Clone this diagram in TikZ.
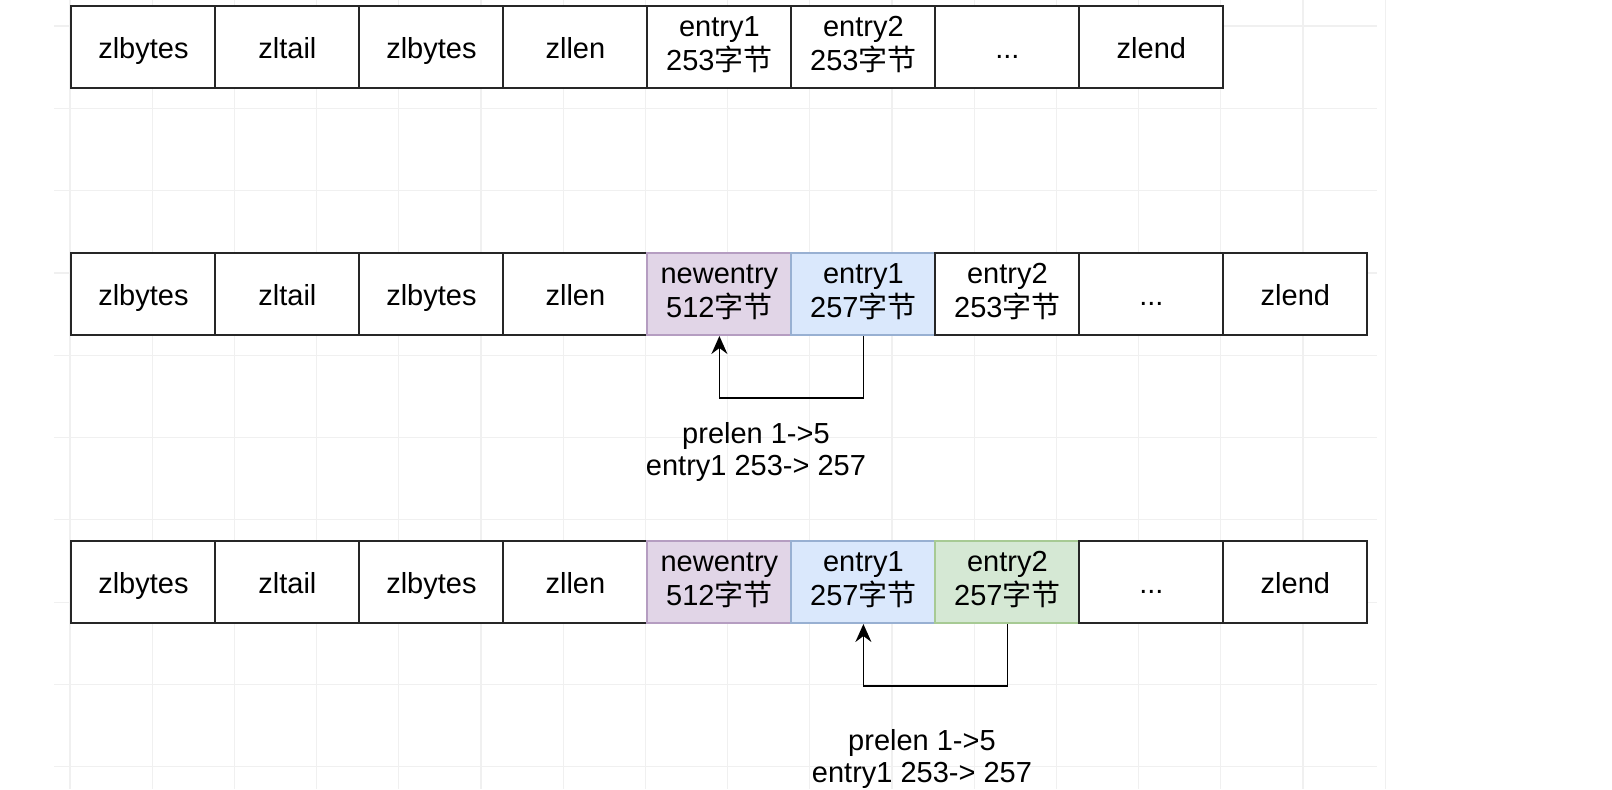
\documentclass[tikz,border=0pt]{standalone}
\usepackage{fontspec}
\setmainfont{Liberation Sans}
\newfontfamily\cjk{Noto Sans CJK SC}
\usetikzlibrary{matrix,arrows.meta}
\definecolor{newfill}{HTML}{E1D5E7}
\definecolor{newline}{HTML}{9673A6}
\definecolor{onefill}{HTML}{DAE8FC}
\definecolor{oneline}{HTML}{6C8EBF}
\definecolor{twofill}{HTML}{D5E8D4}
\definecolor{twoline}{HTML}{82B366}
\newcommand{\zijie}{{\cjk 字节}}
\newcommand{\twol}[2]{\begin{tabular}{@{}c@{}}#1\\#2\end{tabular}}
\newcommand{\cellstrut}{\rule[-3.5pt]{0pt}{18.5pt}}

\begin{document}
\begin{tikzpicture}[x=0.5pt, y=-0.5pt, every node/.style={font=\fontsize{14.5}{16}\selectfont}, >={Stealth[length=9pt, width=8pt, inset=3pt]},
	zlrow/.style={matrix of nodes, anchor=west, inner sep=0pt, column sep=-1pt, nodes={draw=black!85, line width=1pt, fill=white, minimum width=72pt, minimum height=41pt, inner sep=0pt, anchor=center, execute at begin node=\cellstrut}},
	newcell/.style={fill=newfill, draw=newline!70},
	onecell/.style={fill=onefill, draw=oneline!70},
	twocell/.style={fill=twofill, draw=twoline!70},
	gridline/.style={black!6, line width=0.6pt}]
	\useasboundingbox (0,0) rectangle (1612,789);
	% background grid
	\foreach \gx in {0,...,16} \draw[gridline] ({70+82.2*\gx},0) -- ({70+82.2*\gx},789);
	\foreach \gy in {0,...,9} \draw[gridline] (54,{26+82.3*\gy}) -- (1377,{26+82.3*\gy});
	% original ziplist
	\matrix (Z1) [zlrow] at (70,47) {
		zlbytes & zltail & zlbytes & zllen & \twol{entry1}{253\zijie} & \twol{entry2}{253\zijie} & ... & zlend \\
	};
	% after inserting newentry
	\matrix (Z2) [zlrow] at (70,294) {
		zlbytes & zltail & zlbytes & zllen & |[newcell]| \twol{newentry}{512\zijie} & |[onecell]| \twol{entry1}{257\zijie} & \twol{entry2}{253\zijie} & ... & zlend \\
	};
	\draw[->, line width=0.8pt] (Z2-1-6.south) -- ++(0,62) -| (Z2-1-5.south);
	\node[align=center] (L2) at (756,452) {prelen 1->5\\entry1 253-> 257};
	% cascade update
	\matrix (Z3) [zlrow] at (70,582) {
		zlbytes & zltail & zlbytes & zllen & |[newcell]| \twol{newentry}{512\zijie} & |[onecell]| \twol{entry1}{257\zijie} & |[twocell]| \twol{entry2}{257\zijie} & ... & zlend \\
	};
	\draw[->, line width=0.8pt] (Z3-1-7.south) -- ++(0,62) -| (Z3-1-6.south);
	\node[align=center] (L3) at (922,759) {prelen 1->5\\entry1 253-> 257};
\end{tikzpicture}
\end{document}
